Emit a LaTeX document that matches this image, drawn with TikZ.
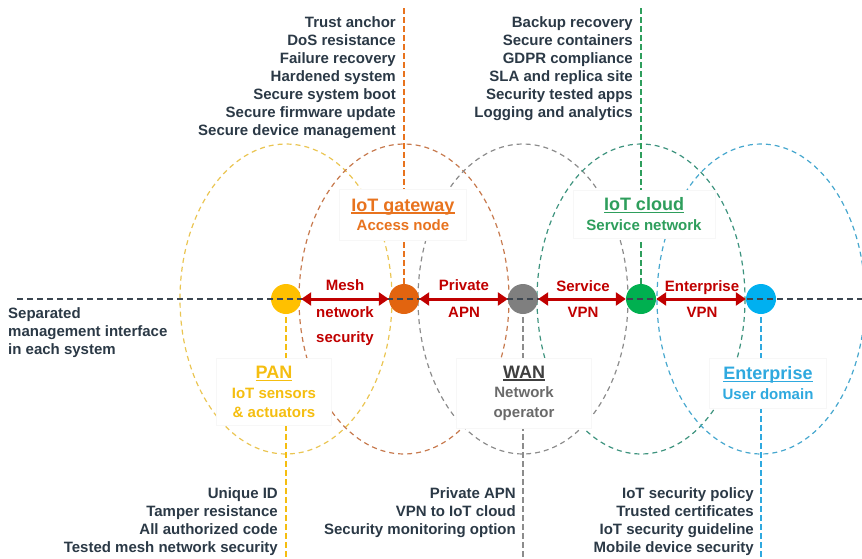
\documentclass[tikz,border=0pt]{standalone}
\usepackage{fontspec}
\setmainfont{Liberation Sans}
\usetikzlibrary{arrows.meta,backgrounds}

\definecolor{txtdark}{HTML}{2B3946}
\definecolor{panyel}{HTML}{FFC000}
\definecolor{gworange}{HTML}{E2640F}
\definecolor{wangray}{HTML}{7F7F7F}
\definecolor{cloudgreen}{HTML}{00B050}
\definecolor{entblue}{HTML}{00B0F0}
\definecolor{linkred}{HTML}{C00000}
\definecolor{mgline}{HTML}{3C4650}
\definecolor{pantext}{HTML}{F5BE10}
\definecolor{gwtext}{HTML}{E8731E}
\definecolor{wantitle}{HTML}{3F3F3F}
\definecolor{wantext}{HTML}{6A6A6A}
\definecolor{cloudtext}{HTML}{2E9E5C}
\definecolor{enttext}{HTML}{2FA9DF}
\definecolor{panzone}{HTML}{EAC552}
\definecolor{gwzone}{HTML}{C77A4E}
\definecolor{wanzone}{HTML}{8C8C8C}
\definecolor{cloudzone}{HTML}{3D937E}
\definecolor{entzone}{HTML}{46A7CE}

\newcommand\ztitle[1]{{\fontsize{18}{20}\selectfont\setbox0\hbox{#1}\rlap{\rule[-2.4pt]{\wd0}{1.3pt}}\box0}}

\begin{document}
\begin{tikzpicture}[x=1pt,y=-1pt,
    dot/.style={circle,minimum size=30pt,inner sep=0pt},
    zone/.style={dash pattern=on 5pt off 4pt,line width=1.2pt},
    vline/.style={dash pattern=on 6pt off 3pt,line width=2pt},
    zonebox/.style={fill=white,draw=black!3,inner sep=0pt,align=center,font=\fontsize{15}{19.5}\selectfont\bfseries},
    link/.style={{Triangle[length=10pt,width=13pt]}-{Triangle[length=10pt,width=13pt]},line width=3pt,draw=linkred},
    linklbl/.style={font=\fontsize{15}{18}\selectfont\bfseries,text=linkred,inner sep=0pt,text height=11pt,text depth=0pt},
    item/.style={font=\fontsize{15}{18}\selectfont\bfseries,text=txtdark,inner sep=0pt,anchor=base east}]
    \useasboundingbox (0,0) rectangle (862,558);

    \node[dot,fill=panyel] (pan) at (286,299) {};
    \node[dot,fill=gworange] (gw) at (404,299) {};
    \node[dot,fill=wangray] (wan) at (523,299) {};
    \node[dot,fill=cloudgreen] (cloud) at (641,299) {};
    \node[dot,fill=entblue] (ent) at (761,299) {};

    \coordinate (gwtop) at (404,8);
    \coordinate (cloudtop) at (641,8);
    \coordinate (panbot) at (286,558);
    \coordinate (wanbot) at (523,558);
    \coordinate (entbot) at (761,558);
    \coordinate (mgleft) at (17,299);
    \coordinate (mgright) at (862,299);

    \begin{pgfonlayer}{background}
        \draw[zone,panzone] (pan) ellipse [x radius=106,y radius=155];
        \draw[zone,gwzone] (gw) ellipse [x radius=105,y radius=155];
        \draw[zone,wanzone] (wan) ellipse [x radius=105,y radius=155];
        \draw[zone,cloudzone] (cloud) ellipse [x radius=104,y radius=155];
        \draw[zone,entzone] (ent) ellipse [x radius=104,y radius=155];
        \draw[vline,gwtext] (gwtop) -- (gw.center);
        \draw[vline,cloudtext] (cloudtop) -- (cloud.center);
        \draw[vline,pantext] (pan.center) -- (panbot);
        \draw[vline,wanzone] (wan.center) -- (wanbot);
        \draw[vline,enttext] (ent.center) -- (entbot);
    \end{pgfonlayer}

    \node[zonebox,minimum width=127,minimum height=51,text=gwtext] (gwbox) at (403,215) {\ztitle{IoT gateway}\\Access node};
    \node[zonebox,minimum width=142,minimum height=48,text=cloudtext] (cloudbox) at (644,214) {\ztitle{IoT cloud}\\Service network};
    \node[zonebox,minimum width=115,minimum height=67,text=pantext] (panbox) at (274,392) {\ztitle{PAN}\\IoT sensors\\\& actuators};
    \node[zonebox,minimum width=135,minimum height=70,text=wantext] (wanbox) at (524,393) {\textcolor{wantitle}{\ztitle{WAN}}\\Network\\operator};
    \node[zonebox,minimum width=117,minimum height=50,text=enttext] (entbox) at (768,383) {\ztitle{Enterprise}\\User domain};

    \draw[mgline,line width=1.5pt,dash pattern=on 6pt off 4pt] (mgleft) -- (mgright);

    \draw[link] (pan) -- (gw);
    \draw[link] (gw) -- (wan);
    \draw[link] (wan) -- (cloud);
    \draw[link] (cloud) -- (ent);

    \node[linklbl] (meshtop) at (345,285) {Mesh};
    \node[linklbl] (meshmid) at (345,312) {network};
    \node[linklbl] (meshbot) at (345,337) {security};
    \node[linklbl] (apntop) at (464,285) {Private};
    \node[linklbl] (apnbot) at (464,312) {APN};
    \node[linklbl] (svctop) at (583,286) {Service};
    \node[linklbl] (svcbot) at (583,312) {VPN};
    \node[linklbl] (enttop) at (702,286) {Enterprise};
    \node[linklbl] (entvpn) at (702,312) {VPN};

    \foreach \t [count=\i] in {Trust anchor,DoS resistance,Failure recovery,Hardened system,Secure system boot,Secure firmware update,Secure device management}
        \node[item] (gwitem\i) at (396,9.5+18*\i) {\t};
    \foreach \t [count=\i] in {Backup recovery,Secure containers,GDPR compliance,SLA and replica site,Security tested apps,Logging and analytics}
        \node[item] (clouditem\i) at (633,9.5+18*\i) {\t};
    \foreach \t [count=\i] in {Unique ID,Tamper resistance,All authorized code,Tested mesh network security}
        \node[item] (panitem\i) at (278,480.5+18*\i) {\t};
    \foreach \t [count=\i] in {Private APN,VPN to IoT cloud,Security monitoring option}
        \node[item] (wanitem\i) at (516,480.5+18*\i) {\t};
    \foreach \t [count=\i] in {IoT security policy,Trusted certificates,IoT security guideline,Mobile device security}
        \node[item] (entitem\i) at (754,480.5+18*\i) {\t};
    \foreach \t [count=\i] in {Separated,management interface,in each system}
        \node[item,anchor=base west] (mgmt\i) at (8,300.5+18*\i) {\t};
\end{tikzpicture}
\end{document}
